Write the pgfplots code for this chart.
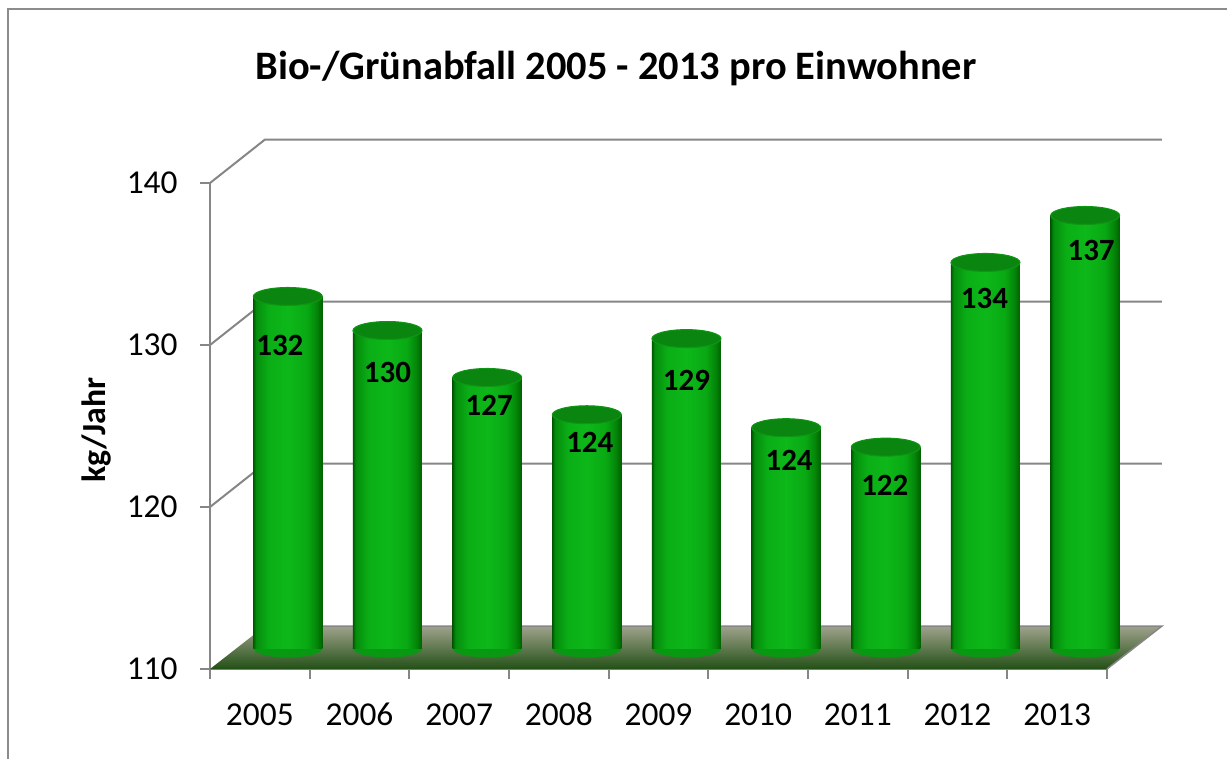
\documentclass[border=0pt]{standalone}
\usepackage{pgfplots}
\usepackage{pgfplotstable}
\pgfplotsset{compat=1.18}
\usepackage{fontspec}
\setmainfont{Carlito}

\definecolor{gridgray}{RGB}{134,134,134}
\definecolor{framegray}{RGB}{140,140,140}
\definecolor{cylTop}{RGB}{10,134,16}
\definecolor{cylRim}{RGB}{14,150,20}
\definecolor{cylBot}{RGB}{8,152,18}
\definecolor{floorTop}{RGB}{160,162,140}
\definecolor{floorBot}{RGB}{34,80,22}
\pgfdeclarehorizontalshading{cyl}{100bp}{rgb(0bp)=(0,0.36,0); rgb(25bp)=(0,0.36,0); rgb(27bp)=(0.02,0.55,0.05); rgb(36bp)=(0.04,0.68,0.085); rgb(50bp)=(0.05,0.72,0.1); rgb(64bp)=(0.035,0.66,0.075); rgb(71bp)=(0.015,0.52,0.035); rgb(75bp)=(0,0.38,0); rgb(100bp)=(0,0.38,0)}

% i: category, v: value, lx/ly: label position
\pgfplotstableread{
i b v lx ly
0 110 131.7 -0.08 128.70
1 110 129.6 1.00 126.98
2 110 126.7 2.02 125.00
3 110 124.4 3.03 122.72
4 110 129.1 4.00 126.54
5 110 123.6 5.03 121.60
6 110 122.4 5.99 120.06
7 110 133.8 6.99 131.60
8 110 136.7 8.06 134.57
}\datatable

\pgfplotsset{
  cylaxis/.style={
    at={(23.8mm,11.0mm)}, anchor=south west,
    scale only axis, width=89.7mm, height=48.6mm,
    xmin=-0.5, xmax=8.5, ymin=110, ymax=140,
    axis lines=none,
  }
}

\begin{document}
\begin{tikzpicture}[x=1mm,y=1mm]
\useasboundingbox (0,0) rectangle (122.7,75.8);
% chart frame
\draw[framegray, line width=0.22mm] (0.8,-2) -- (0.8,74.9) -- (125,74.9);
% title
\node[anchor=base, font=\fontsize{11.5}{13}\selectfont\bfseries] at (61.6,67.9) {Bio-/Grünabfall 2005 - 2013 pro Einwohner};
% y label
\node[rotate=90, font=\fontsize{9.6}{11}\selectfont\bfseries] at (9.7,32.8) {kg/Jahr};

% front frame, walls and floor
\begin{axis}[
  at={(21.0mm,8.9mm)}, anchor=south west,
  scale only axis, width=89.7mm, height=48.6mm,
  xmin=-0.5, xmax=8.5, ymin=110, ymax=140,
  clip=false,
  axis x line=bottom, axis y line=left,
  axis line style={gridgray, line width=0.2mm, -},
  ytick={110,120,130,140},
  xtick={0,1,2,3,4,5,6,7,8},
  xticklabels={2005,2006,2007,2008,2009,2010,2011,2012,2013},
  minor xtick={-0.5,0.5,1.5,2.5,3.5,4.5,5.5,6.5,7.5,8.5},
  tick align=outside,
  major tick length=1mm, minor tick length=1mm,
  tick style={gridgray, line width=0.2mm},
  major x tick style={draw=none},
  /pgf/number format/assume math mode=true,
  ticklabel style={font=\fontsize{9.5}{11}\selectfont, text=black},
  yticklabel style={anchor=east, xshift=-1.0mm},
  xticklabel style={anchor=base, yshift=-4.6mm},
]
\shade[top color=floorTop, bottom color=floorBot]
  (axis cs:-0.5,110) -- (axis cs:8.5,110) -- ([shift={(5.5mm,4.3mm)}]axis cs:8.5,110) -- ([shift={(5.5mm,4.3mm)}]axis cs:-0.5,110) -- cycle;
\draw[gridgray, line width=0.15mm]
  (axis cs:8.5,110) -- ([shift={(5.5mm,4.3mm)}]axis cs:8.5,110) -- ([shift={(5.5mm,4.3mm)}]axis cs:-0.5,110);
\pgfplotsinvokeforeach{120,130,140}{
  \draw[gridgray, line width=0.2mm] (axis cs:-0.5,#1) -- ([shift={(5.5mm,4.35mm)}]axis cs:-0.5,#1) -- ([shift={(5.5mm,4.35mm)}]axis cs:8.5,#1);
}
\end{axis}

% bottom ellipses of the cylinders
\begin{axis}[cylaxis, clip=false]
\addplot[only marks, mark=*, mark size=3.45mm,
  mark options={yscale=0.27, fill=cylBot, draw=cylBot, line width=0.1pt}]
  table[x=i, y=b] {\datatable};
\end{axis}

% cylinder bodies (clipped at the floor)
\begin{axis}[cylaxis]
\pgfplotsinvokeforeach{0,1,2,3,4,5,6,7,8}{
  \addplot[ybar, bar shift=0pt, bar width=6.9mm, draw=none, shading=cyl,
    restrict x to domain=#1:#1]
    table[x=i, y=v] {\datatable};
}
\end{axis}

% cylinder tops and value labels
\begin{axis}[cylaxis, clip=false, /pgf/number format/assume math mode=true]
\addplot[only marks, mark=*, mark size=3.45mm,
  mark options={yscale=0.26, fill=cylTop, draw=cylRim, line width=0.3pt}]
  table[x=i, y=v] {\datatable};
\addplot[only marks, mark=none,
  point meta=explicit,
  nodes near coords={\pgfmathprintnumber[fixed, precision=0, assume math mode=true]{\pgfplotspointmeta}},
  every node near coord/.append style={anchor=center,
     font=\fontsize{8.8}{10}\selectfont\bfseries, text=black},
  ]
  table[x=lx, y=ly, meta=v] {\datatable};
\end{axis}
\end{tikzpicture}
\end{document}
